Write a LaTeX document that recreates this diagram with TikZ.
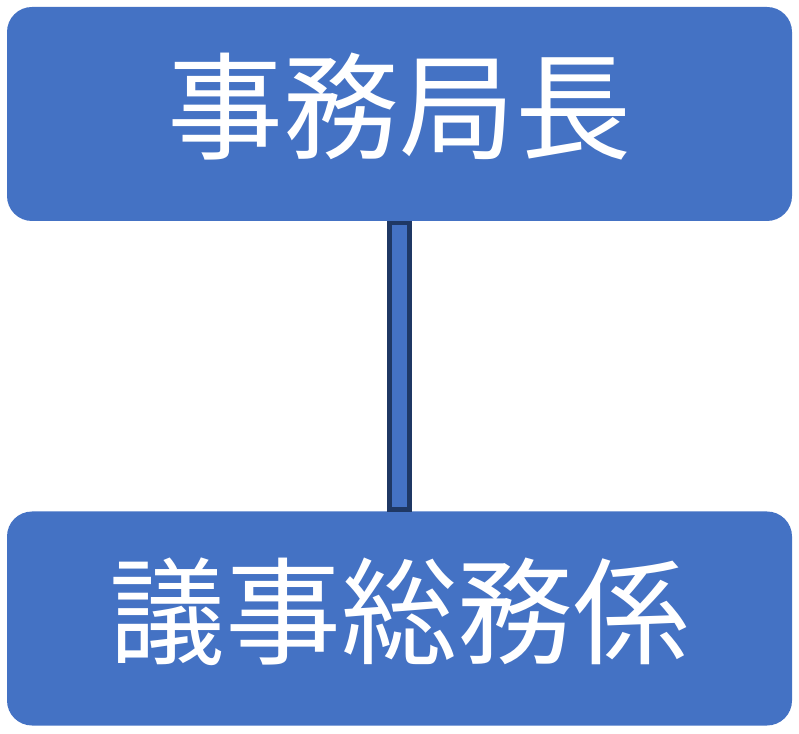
\documentclass[tikz,border=0pt]{standalone}
\usepackage{fontspec}
\newfontfamily\cjk{Noto Sans CJK JP}
\definecolor{boxblue}{HTML}{4472C4}
\definecolor{navy}{HTML}{1F3864}
\begin{document}
\begin{tikzpicture}[x=1pt,y=1pt,
  orgbox/.style={fill=boxblue, draw=none, rounded corners=25pt, minimum width=785pt, minimum height=214pt, inner sep=0pt, text height=74pt, text depth=0pt, text=white, font=\cjk\fontsize{116}{116}\selectfont},
  linkbox/.style={fill=boxblue, draw=navy, line width=4.5pt}]
\useasboundingbox (0,0) rectangle (799,733);
\node[orgbox] (top) at (399.5,619) {事務局長};
\node[orgbox] (bot) at (399.5,114.5) {議事総務係};
\draw[linkbox] ([xshift=-10pt,yshift=-2pt]top.south) rectangle ([xshift=10pt,yshift=2pt]bot.north);
\end{tikzpicture}
\end{document}
